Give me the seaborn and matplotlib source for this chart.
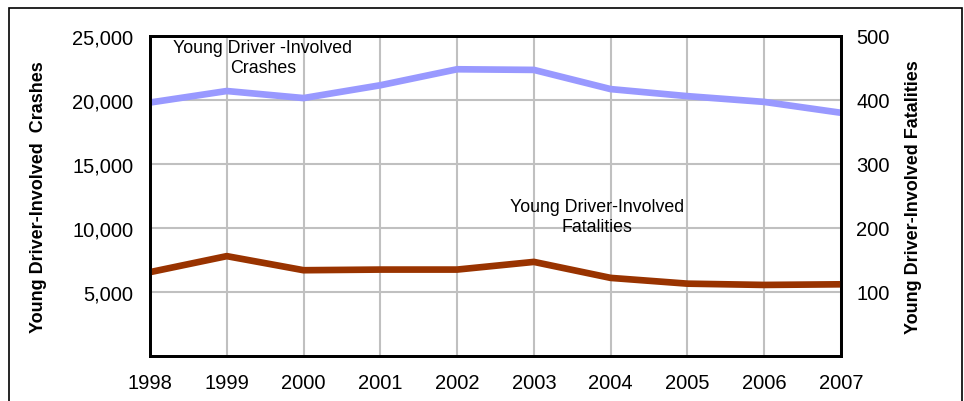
import pandas as pd
import matplotlib.pyplot as plt
import seaborn as sns
from matplotlib.patches import Rectangle

years = [1998, 1999, 2000, 2001, 2002, 2003, 2004, 2005, 2006, 2007]
crashes = [19800, 20700, 20150, 21150, 22400, 22350, 20850, 20300, 19850, 19000]
fatalities = [131, 156, 134, 135, 135, 147, 122, 113, 111, 112]

left_ticks = [5000, 10000, 15000, 20000, 25000]
right_ticks = [100, 200, 300, 400, 500]

df = pd.DataFrame({"year": years, "crashes": crashes, "fatalities": fatalities})

sns.set_theme(style="white")
plt.rcParams["font.family"] = ["Liberation Sans", "DejaVu Sans"]
plt.rcParams["text.color"] = "black"
plt.rcParams["axes.labelcolor"] = "black"

fig = plt.figure(figsize=(9.64, 4.02), dpi=100)
ax = fig.add_axes([0.1556, 0.112, 0.7168, 0.796])

# outer frame around the whole chart
fig.patches.append(Rectangle((9 / 964, -0.05), 953 / 964, 1 - 9 / 402 + 0.05,
                             transform=fig.transFigure, fill=False,
                             edgecolor="black", linewidth=1.2))

sns.lineplot(data=df, x="year", y="crashes", ax=ax, color="#9999FF", linewidth=4.8)
ax2 = ax.twinx()
sns.lineplot(data=df, x="year", y="fatalities", ax=ax2, color="#993300", linewidth=4.8)

ax.set_xlim(1998, 2007)
ax.set_ylim(0, 25000)
ax2.set_ylim(0, 500)
ax.set_xticks(years)
ax.set_yticks(left_ticks)
ax.set_yticklabels([f"{v:,}" for v in left_ticks])
ax2.set_yticks(right_ticks)

ax.grid(True, color="#C0C0C0", linewidth=1.5)
ax.set_axisbelow(True)
ax2.grid(False)

for a in (ax, ax2):
    for s in a.spines.values():
        s.set_color("black")
        s.set_linewidth(2)
    a.tick_params(length=0, labelsize=14.5, colors="black")
ax.tick_params(axis="y", pad=12)
ax2.tick_params(axis="y", pad=11)
ax.tick_params(axis="x", pad=12)

ax.set_xlabel("")
ax.set_ylabel("Young Driver-Involved  Crashes", fontsize=13, fontweight="bold",
              labelpad=18, color="black")
ax2.set_ylabel("Young Driver-Involved Fatalities", fontsize=13, fontweight="bold",
               rotation=90, labelpad=11, color="black")

ax.text(1999.47, 23300, "Young Driver -Involved\nCrashes", ha="center", va="center",
        fontsize=12.8, linespacing=1.25, color="black")
ax.text(2003.82, 10900, "Young Driver-Involved\nFatalities", ha="center", va="center",
        fontsize=12.8, linespacing=1.25, color="black")

fig.savefig("out.png", dpi=100)
